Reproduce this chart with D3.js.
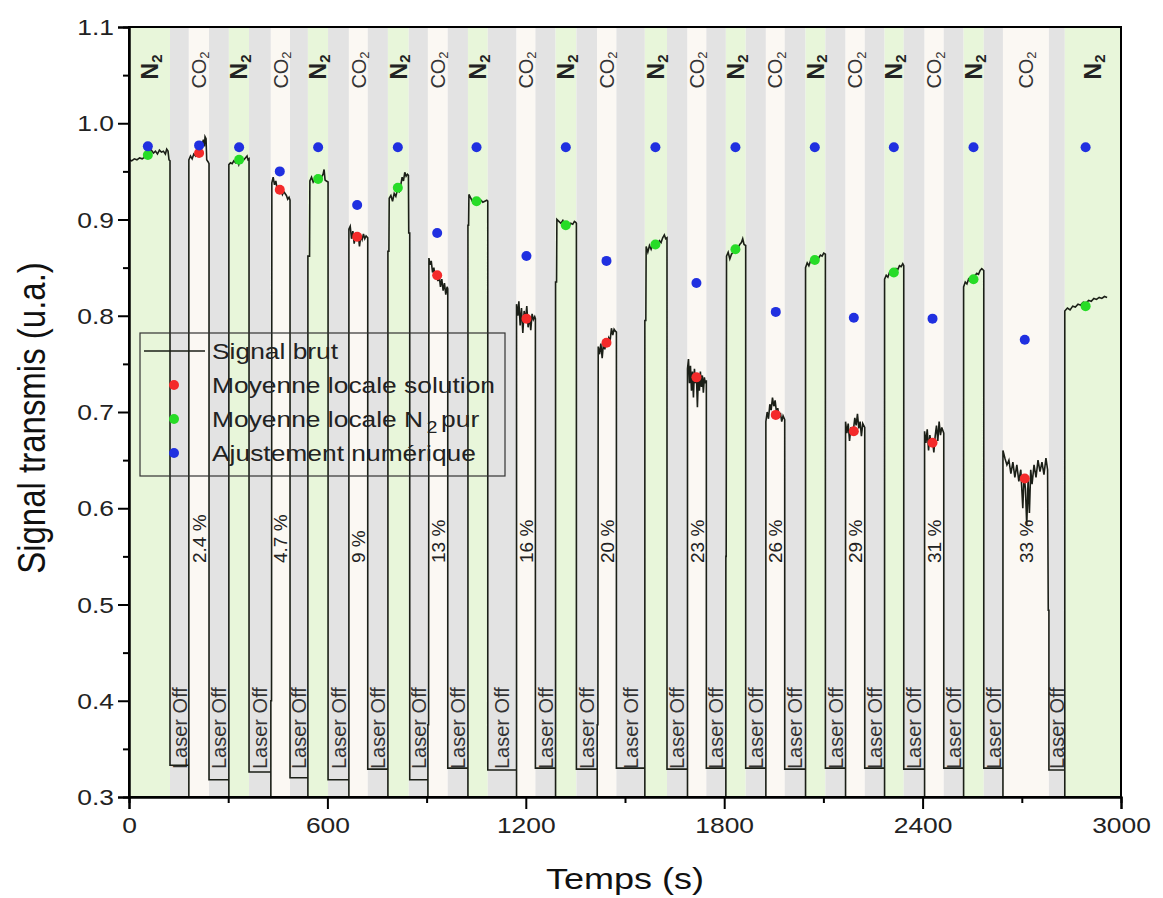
<!DOCTYPE html>
<html><head><meta charset="utf-8">
<script src="https://cdn.jsdelivr.net/npm/d3@7"></script>
<style>body{margin:0;background:#fff}svg{display:block}</style>
</head><body>
<svg id="c" width="1163" height="898"></svg>
<script>
// ---------- DATA ----------
const bandEdges = [0,124,181,242,302,363,429,487,541,602,665,722,783,846,904,964,1025,1085,1172,1229,1290,1353,1416,1474,1560,1627,1689,1746,1805,1865,1926,1983,2046,2106,2167,2225,2285,2343,2406,2464,2524,2585,2643,2782,2830,3000];
const bandTypes = ["N2","off","CO2","off","N2","off","CO2","off","N2","off","CO2","off","N2","off","CO2","off","N2","off","CO2","off","N2","off","CO2","off","N2","off","CO2","off","N2","off","CO2","off","N2","off","CO2","off","N2","off","CO2","off","N2","off","CO2","off","N2"];
const co2Labels = ["2.4 %","4.7 %","9 %","13 %","16 %","20 %","23 %","26 %","29 %","31 %","33 %"];
const offLevels = [0.333,0.318,0.326,0.320,0.318,0.329,0.318,0.330,0.328,0.330,0.329,0.330,0.329,0.330,0.330,0.329,0.330,0.330,0.329,0.330,0.330,0.328];
const signalSegments = [
 [[0,0.962],[8,0.961],[16,0.963],[24,0.962],[32,0.964],[40,0.963],[48,0.965],[56,0.966],[62,0.970],[68,0.972],[74,0.969],[80,0.971],[86,0.968],[92,0.972],[98,0.970],[104,0.971],[110,0.968],[114,0.973],[118,0.971],[121,0.962],[124,0.961]],
 [[181,0.962],[186,0.966],[191,0.963],[196,0.968],[201,0.966],[206,0.971],[211,0.969],[216,0.974],[221,0.978],[225,0.983],[228,0.976],[230,0.986],[233,0.984],[235,0.962],[239,0.960],[242,0.958]],
 [[302,0.957],[307,0.959],[312,0.958],[317,0.961],[322,0.959],[327,0.962],[332,0.957],[337,0.963],[342,0.961],[347,0.962],[352,0.964],[357,0.966],[360,0.962],[363,0.963]],
 [[429,0.400],[431,0.400],[432,0.938],[436,0.944],[440,0.936],[444,0.940],[448,0.932],[452,0.934],[456,0.928],[460,0.930],[464,0.926],[468,0.929],[472,0.927],[476,0.925],[480,0.921],[484,0.923],[487,0.920]],
 [[541,0.862],[546,0.862],[547,0.940],[552,0.944],[557,0.939],[562,0.942],[567,0.945],[572,0.941],[577,0.943],[582,0.944],[587,0.947],[590,0.952],[593,0.941],[597,0.940],[602,0.939]],
 [[665,0.890],[669,0.893],[673,0.880],[677,0.888],[681,0.875],[685,0.884],[689,0.880],[693,0.886],[697,0.872],[701,0.883],[705,0.879],[709,0.885],[713,0.880],[717,0.883],[722,0.881]],
 [[783,0.867],[786,0.867],[787,0.922],[792,0.925],[797,0.919],[802,0.927],[807,0.924],[812,0.931],[817,0.929],[822,0.936],[826,0.944],[830,0.940],[834,0.949],[838,0.945],[842,0.947],[845,0.946],[846,0.886],[849,0.886]],
 [[904,0.375],[906,0.375],[907,0.860],[910,0.853],[914,0.857],[918,0.845],[922,0.850],[926,0.838],[930,0.846],[934,0.836],[938,0.842],[942,0.830],[946,0.838],[950,0.826],[954,0.834],[958,0.822],[962,0.830],[964,0.828]],
 [[1025,0.894],[1027,0.894],[1028,0.926],[1034,0.922],[1040,0.918],[1046,0.921],[1052,0.919],[1058,0.917],[1064,0.920],[1070,0.918],[1076,0.919],[1082,0.920],[1085,0.919]],
 [[1172,0.812],[1176,0.800],[1179,0.815],[1183,0.790],[1187,0.808],[1191,0.782],[1195,0.805],[1199,0.795],[1203,0.810],[1207,0.788],[1211,0.800],[1215,0.785],[1219,0.802],[1223,0.796],[1227,0.799],[1229,0.797]],
 [[1290,0.835],[1293,0.835],[1294,0.900],[1300,0.898],[1306,0.896],[1312,0.899],[1318,0.894],[1324,0.895],[1330,0.893],[1336,0.896],[1342,0.895],[1347,0.898],[1351,0.897],[1353,0.896]],
 [[1416,0.375],[1418,0.375],[1419,0.768],[1423,0.760],[1427,0.771],[1431,0.756],[1435,0.772],[1439,0.765],[1443,0.773],[1447,0.770],[1451,0.777],[1455,0.774],[1459,0.787],[1463,0.780],[1467,0.786],[1471,0.784],[1474,0.783]],
 [[1560,0.795],[1563,0.795],[1564,0.872],[1569,0.866],[1574,0.873],[1579,0.869],[1584,0.874],[1589,0.872],[1594,0.876],[1599,0.874],[1604,0.878],[1609,0.876],[1614,0.881],[1619,0.884],[1623,0.880],[1627,0.881]],
 [[1689,0.745],[1692,0.755],[1695,0.730],[1698,0.748],[1701,0.722],[1704,0.742],[1707,0.715],[1710,0.745],[1713,0.730],[1716,0.738],[1719,0.705],[1722,0.740],[1725,0.722],[1728,0.742],[1731,0.726],[1734,0.738],[1737,0.720],[1740,0.736],[1743,0.730],[1746,0.733]],
 [[1805,0.550],[1806,0.550],[1807,0.862],[1812,0.866],[1817,0.859],[1822,0.864],[1827,0.866],[1832,0.868],[1837,0.869],[1842,0.871],[1847,0.874],[1852,0.876],[1856,0.880],[1860,0.874],[1865,0.873]],
 [[1926,0.690],[1930,0.700],[1934,0.693],[1938,0.708],[1942,0.702],[1946,0.715],[1950,0.706],[1954,0.712],[1958,0.700],[1962,0.704],[1966,0.694],[1970,0.699],[1974,0.690],[1978,0.696],[1983,0.692]],
 [[2046,0.850],[2051,0.855],[2056,0.852],[2061,0.857],[2066,0.856],[2071,0.859],[2076,0.858],[2081,0.861],[2086,0.860],[2091,0.863],[2096,0.862],[2101,0.865],[2106,0.864]],
 [[2167,0.690],[2171,0.678],[2175,0.688],[2179,0.670],[2183,0.684],[2187,0.676],[2191,0.682],[2195,0.694],[2199,0.686],[2203,0.698],[2207,0.683],[2211,0.690],[2215,0.675],[2219,0.688],[2225,0.684]],
 [[2285,0.838],[2290,0.842],[2295,0.840],[2300,0.845],[2305,0.843],[2310,0.847],[2315,0.846],[2320,0.849],[2325,0.848],[2330,0.852],[2335,0.851],[2340,0.854],[2343,0.852]],
 [[2406,0.680],[2410,0.668],[2414,0.682],[2418,0.660],[2422,0.676],[2426,0.665],[2430,0.671],[2434,0.658],[2438,0.675],[2442,0.686],[2446,0.670],[2450,0.690],[2454,0.676],[2458,0.684],[2464,0.678]],
 [[2524,0.830],[2529,0.835],[2534,0.833],[2539,0.838],[2544,0.836],[2549,0.840],[2554,0.839],[2559,0.842],[2564,0.844],[2569,0.843],[2574,0.847],[2579,0.849],[2585,0.847]],
 [[2643,0.660],[2649,0.652],[2655,0.645],[2661,0.650],[2667,0.636],[2673,0.648],[2679,0.632],[2685,0.645],[2691,0.628],[2697,0.640],[2703,0.600],[2707,0.635],[2711,0.620],[2715,0.582],[2719,0.630],[2723,0.595],[2727,0.640],[2731,0.625],[2737,0.645],[2743,0.632],[2749,0.650],[2755,0.638],[2761,0.648],[2767,0.635],[2773,0.652],[2778,0.640],[2780,0.494],[2782,0.494]],
 [[2830,0.805],[2838,0.808],[2846,0.806],[2854,0.810],[2862,0.809],[2870,0.812],[2878,0.811],[2886,0.814],[2894,0.813],[2902,0.816],[2910,0.815],[2918,0.818],[2926,0.817],[2934,0.819],[2942,0.818],[2950,0.820],[2958,0.819]]
];
const n2T = [57,333,572,813,1051,1321,1592,1834,2074,2313,2554,2893];
const n2V = [0.967,0.962,0.942,0.933,0.919,0.894,0.874,0.869,0.858,0.845,0.838,0.810];
const solT = [212,456,690,932,1202,1444,1716,1956,2192,2430,2709];
const solV = [0.969,0.931,0.882,0.842,0.797,0.772,0.736,0.697,0.680,0.668,0.631];
const fitT = [57,212,333,456,572,690,813,932,1051,1202,1321,1444,1592,1716,1834,1956,2074,2192,2313,2430,2554,2709,2893];
const fitV = [0.976,0.977,0.975,0.950,0.975,0.915,0.975,0.886,0.975,0.862,0.975,0.857,0.975,0.834,0.975,0.804,0.975,0.798,0.975,0.797,0.975,0.775,0.975];
const xTicks = [0,600,1200,1800,2400,3000];
const xMinor = [300,900,1500,2100,2700];
const yTicks = [0.3,0.4,0.5,0.6,0.7,0.8,0.9,1.0,1.1];
const yMinor = [0.35,0.45,0.55,0.65,0.75,0.85,0.95,1.05];
const legendLabels = ["Signal brut","Moyenne locale solution","Moyenne locale N","Ajustement numérique"];

// ---------- LAYOUT ----------
const L=129,R=1121,T=27,B=797;
const FONT="'Liberation Sans', Arial, Helvetica, sans-serif";
const SX=1.2;
const x=d3.scaleLinear().domain([0,3000]).range([L,R]);
const y=d3.scaleLinear().domain([0.3,1.1]).range([B,T]);
const svg=d3.select("#c");
const bandColor={N2:"#e8f6da",off:"#e3e3e3",CO2:"#fbf8f3"};

const bands=bandTypes.map((t,i)=>({t,a:bandEdges[i],b:bandEdges[i+1]}));
svg.append("g").selectAll("rect").data(bands).join("rect")
  .attr("x",d=>x(d.a)).attr("width",d=>x(d.b)-x(d.a))
  .attr("y",T).attr("height",B-T).attr("fill",d=>bandColor[d.t]);

// band labels
const lab=svg.append("g").attr("font-family",FONT);
let ci=0;
bands.forEach(d=>{
  const cx=x((d.a+d.b)/2);
  if(d.t==="N2"){
    const t=lab.append("text").attr("transform",`translate(${cx},67) rotate(-90)`)
      .attr("text-anchor","middle").attr("dy","0.36em").attr("font-size",23).attr("font-weight","bold").attr("fill","#222");
    t.append("tspan").text("N");
    t.append("tspan").attr("font-size",15).attr("dy","0.25em").text("2");
  } else if(d.t==="CO2"){
    const t=lab.append("text").attr("transform",`translate(${cx},70) rotate(-90)`)
      .attr("text-anchor","middle").attr("dy","0.36em").attr("font-size",20).attr("fill","#333");
    t.append("tspan").text("CO");
    t.append("tspan").attr("font-size",13).attr("dy","0.25em").text("2");
    lab.append("text").attr("transform",`translate(${cx},563) rotate(-90)`)
      .attr("text-anchor","start").attr("dy","0.36em").attr("font-size",19).attr("fill","#222").text(co2Labels[ci++]);
  } else {
    lab.append("text").attr("transform",`translate(${cx},769) rotate(-90)`)
      .attr("text-anchor","start").attr("dy","0.36em").attr("font-size",20).attr("fill","#333").text("Laser Off");
  }
});

// signal
const pts=[];
signalSegments.forEach((seg,i)=>{
  seg.forEach(p=>pts.push(p));
  if(i<signalSegments.length-1){
    const last=seg[seg.length-1], nxt=signalSegments[i+1][0][0];
    pts.push([last[0],offLevels[i]]);
    pts.push([nxt,offLevels[i]]);
    pts.push([nxt,0.25]);
  }
});
svg.append("clipPath").attr("id","clip").append("rect").attr("x",L).attr("y",T).attr("width",R-L).attr("height",B-T);
svg.append("path").datum(pts).attr("clip-path","url(#clip)")
  .attr("d",d3.line().x(d=>x(d[0])).y(d=>y(d[1])))
  .attr("fill","none").attr("stroke","#1b1f17").attr("stroke-width",1.6);

// markers
function dots(ts,vs,col){
  svg.append("g").selectAll("circle").data(ts.map((t,i)=>[t,vs[i]])).join("circle")
    .attr("cx",d=>x(d[0])).attr("cy",d=>y(d[1])).attr("r",5).attr("fill",col);
}
dots(solT,solV,"#f42a2a");
dots(n2T,n2V,"#27dc27");
dots(fitT,fitV,"#2030e0");

// frame
svg.append("rect").attr("x",L).attr("y",T).attr("width",R-L).attr("height",B-T)
  .attr("fill","none").attr("stroke","#000").attr("stroke-width",2);

// axes
const ax=svg.append("g").attr("transform",`translate(0,${B})`);
ax.call(d3.axisBottom(x).tickValues(xTicks).tickSize(12).tickPadding(6).tickFormat(d3.format("d")));
ax.append("g").call(d3.axisBottom(x).tickValues(xMinor).tickSize(6).tickFormat(""));
const ay=svg.append("g").attr("transform",`translate(${L},0)`);
ay.call(d3.axisLeft(y).tickValues(yTicks).tickSize(11).tickPadding(6).tickFormat(d3.format(".1f")));
ay.append("g").call(d3.axisLeft(y).tickValues(yMinor).tickSize(6).tickFormat(""));
svg.selectAll(".domain").attr("stroke","#000").attr("stroke-width",2);
svg.selectAll(".tick line").attr("stroke","#000").attr("stroke-width",2);
ax.selectAll(".tick text").attr("font-family",FONT).attr("font-size",22).attr("fill","#222")
  .attr("y",null).attr("dy",null)
  .attr("transform",`translate(0,36) scale(${SX},1)`);
ay.selectAll(".tick text").attr("font-family",FONT).attr("font-size",22).attr("fill","#222")
  .attr("x",null).attr("dy","0.35em")
  .attr("transform",`translate(-15,0) scale(${SX},1)`);

// axis titles
svg.append("text").attr("transform",`translate(625,889) scale(${SX},1)`).attr("text-anchor","middle")
  .attr("font-family",FONT).attr("font-size",30).attr("fill","#111").text("Temps (s)");
svg.append("text").attr("transform",`translate(31,418) scale(${SX},1) rotate(-90)`).attr("text-anchor","middle")
  .attr("dy","0.36em").attr("font-family",FONT).attr("font-size",33).attr("fill","#111").text("Signal transmis (u.a.)");

// legend
const lg=svg.append("g").attr("font-family",FONT);
lg.append("rect").attr("x",140).attr("y",333).attr("width",365).attr("height",143)
  .attr("fill","none").attr("stroke","#333").attr("stroke-width",1.2);
const rowY=[351,385,419,453];
lg.append("line").attr("x1",144).attr("x2",205).attr("y1",rowY[0]).attr("y2",rowY[0]).attr("stroke","#1b1f17").attr("stroke-width",1.6);
[["#f42a2a",1],["#27dc27",2],["#2030e0",3]].forEach(([c,i])=>{
  lg.append("circle").attr("cx",174).attr("cy",rowY[i]).attr("r",5).attr("fill",c);
});
legendLabels.forEach((s,i)=>{
  const t=lg.append("text").attr("transform",`translate(212,${rowY[i]+8}) scale(${SX},1)`)
    .attr("font-size",22).attr("fill","#222");
  t.append("tspan").text(s);
  if(i===2){
    t.append("tspan").attr("font-size",16).attr("dy",6).attr("dx",3).text("2");
    t.append("tspan").attr("dy",-6).attr("dx",3).text("pur");
  }
});
</script>
</body></html>
